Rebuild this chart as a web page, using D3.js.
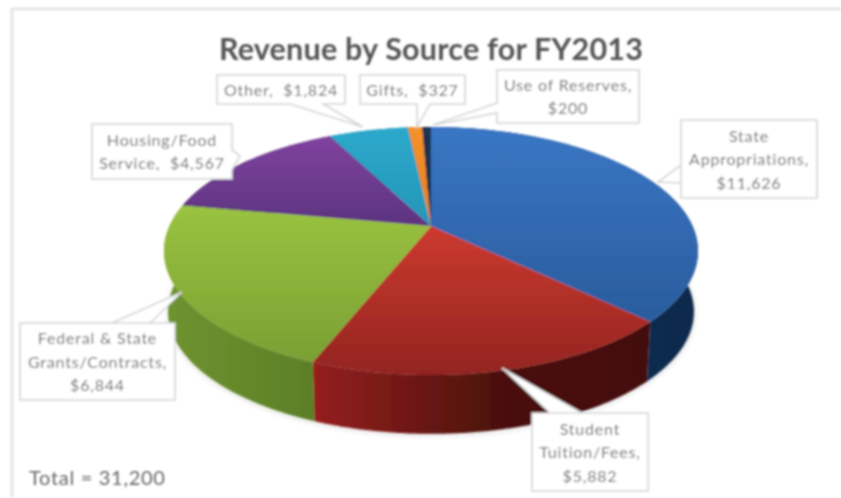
<!DOCTYPE html>
<html><head><meta charset="utf-8">
<script src="https://cdnjs.cloudflare.com/ajax/libs/d3/7.8.5/d3.min.js"></script>
<style>html,body{margin:0;padding:0;background:#fff}svg{display:block}text{font-family:Lato,sans-serif}</style>
</head><body><svg id="c" width="841" height="498"></svg>
<script>
const categories=["State Appropriations","Student Tuition/Fees","Federal & State Grants/Contracts","Housing/Food Service","Other","Gifts","Use of Reserves"];
const values=[11626,5882,6844,4567,1824,327,200];
const valueLabels=["$11,626","$5,882","$6,844","$4,567","$1,824","$327","$200"];
const titleText="Revenue by Source for FY2013";
const totalText="Total = 31,200";
const topColors=[["#3a76c4","#2a5c9e"],["#cc3a30","#932420"],["#9ac340","#7a9f34"],["#80439e","#5c3480"],["#2aa9cc","#2796b8"],["#f5922a","#e5801f"],["#1d3554","#14263f"]];
const wallColors=[["#17375f","#0f2a4c"],["#96201f","#4b110c","#43100b"],["#6f9330","#5c7f28"],["#4b2a66","#3d2155"],["#1f7d98","#186a82"],["#b96a1c","#a45c14"],["#12233a","#0e1c30"]];
const labelLines=[["State","Appropriations,","$11,626"],["Student","Tuition/Fees,","$5,882"],["Federal & State","Grants/Contracts,","$6,844"],["Housing/Food","Service,  $4,567"],["Other,  $1,824"],["Gifts,  $327"],["Use of Reserves,","$200"]];
const boxes=[[681,120,817,198],[532,413,648,491],[20,323,175,400],[92,124,232,179],[217,75,345,104],[360,75,465,104],[497,70,639,123]];
const pointers=[[[681,165],[658,182],[681,183]],[[582,413],[502,368],[550,413]],[[150,323],[182,292],[112,323]],[[232,150],[240,156],[232,170]],[[323,104],[363,127],[290,104]],[[430,104],[417,127],[417,104]],[[497,113],[433,125],[497,103]]];

const W=841,H=498;
const svg=d3.select("#c");
const defs=svg.append("defs");
defs.append("filter").attr("id","soft").attr("x","-5%").attr("y","-5%").attr("width","110%").attr("height","110%")
  .append("feGaussianBlur").attr("stdDeviation",0.95);
const sh=defs.append("filter").attr("id","shadow").attr("x","-10%").attr("y","-10%").attr("width","120%").attr("height","130%");
sh.append("feGaussianBlur").attr("stdDeviation",3);
const g=svg.append("g").attr("filter","url(#soft)");

// perspective disc: centre of the disc maps to the apex
const apexX=431,apexY=226,a=261.5,b=119,k=-0.2017,depth=61,wallScale=0.985;
function proj(t,dy=0,s=1){const u=Math.sin(t),v=-Math.cos(t),d=1+k*v;
  return [apexX+s*a*u/d,apexY+s*b*v/d+dy];}
const pie=d3.pie().value(d=>d).sort(null).startAngle(0).endAngle(2*Math.PI);
const arcs=pie(values);
const line=d3.line();
const samples=(s,e)=>{const n=Math.max(2,Math.ceil((e-s)/0.01));return d3.range(n+1).map(i=>s+(e-s)*i/n);};

// frame
g.append("path").attr("d",line([[12,H],[12,9],[W,9]])).attr("fill","none").attr("stroke","#e6e6e6").attr("stroke-width",3);

// soft shadow below
g.append("path").attr("d",line(samples(0,2*Math.PI).map(t=>proj(t,depth+1,wallScale))))
  .attr("fill","#000").attr("opacity",0.16).attr("filter","url(#shadow)");

// gradients
const grad=(id,c,x1,y1,x2,y2)=>{const l=defs.append("linearGradient").attr("id",id).attr("gradientUnits","userSpaceOnUse")
  .attr("x1",x1).attr("y1",y1).attr("x2",x2).attr("y2",y2);
  c.forEach((col,j)=>l.append("stop").attr("offset",c.length===3?[0,0.55,1][j]:j).attr("stop-color",col));};

arcs.forEach((d,i)=>{
  const ts=samples(d.startAngle,d.endAngle);
  const rim=ts.map(t=>proj(t));
  const xs=rim.map(p=>p[0]);
  grad("w"+i,wallColors[i],d3.min(xs),0,d3.max(xs),0);
  g.append("path").attr("d",line(rim.concat(ts.slice().reverse().map(t=>proj(t,depth,wallScale))))+"Z")
   .attr("fill",`url(#w${i})`);
});
arcs.forEach((d,i)=>{
  const ts=samples(d.startAngle,d.endAngle);
  const rim=ts.map(t=>proj(t));
  const pts=[[apexX,apexY]].concat(rim);
  const ys=pts.map(p=>p[1]);
  grad("t"+i,topColors[i],0,d3.min(ys),0,d3.max(ys));
  g.append("path").attr("d",line(pts)+"Z").attr("fill",`url(#t${i})`);
});

// callouts
categories.forEach((c,i)=>{
  const [x0,y0,x1,y1]=boxes[i];
  const p=pointers[i];
  const corners=[[x0,y0],[x1,y0],[x1,y1],[x0,y1]];
  const edge=pt=>pt[1]===y0?0:pt[0]===x1?1:pt[1]===y1?2:3;
  const e=edge(p[0]);
  const ordered=[];
  corners.forEach((q,j)=>{ordered.push(q); if(j===e) ordered.push(...p);});
  g.append("path").attr("d",line(ordered)+"Z").attr("fill","#fff").attr("stroke","#d4d4d4").attr("stroke-width",1.6);
  const lines=labelLines[i];
  const cx=(x0+x1)/2, cy=(y0+y1)/2, lh=23.5;
  lines.forEach((t,j)=>{
    g.append("text").attr("x",cx).attr("y",cy+(j-(lines.length-1)/2)*lh+6)
     .attr("text-anchor","middle").attr("font-size",16).attr("letter-spacing",0.8).attr("fill","#6a6a6a").style("white-space","pre").text(t);
  });
});

// title and total
g.append("text").attr("x",431).attr("y",60).attr("text-anchor","middle").attr("font-size",30.5).attr("font-weight",700).attr("letter-spacing",0.2).attr("fill","#555").text(titleText);
g.append("text").attr("x",29).attr("y",485).attr("font-size",20).attr("letter-spacing",0.7).attr("fill","#666").text(totalText);
</script></body></html>
